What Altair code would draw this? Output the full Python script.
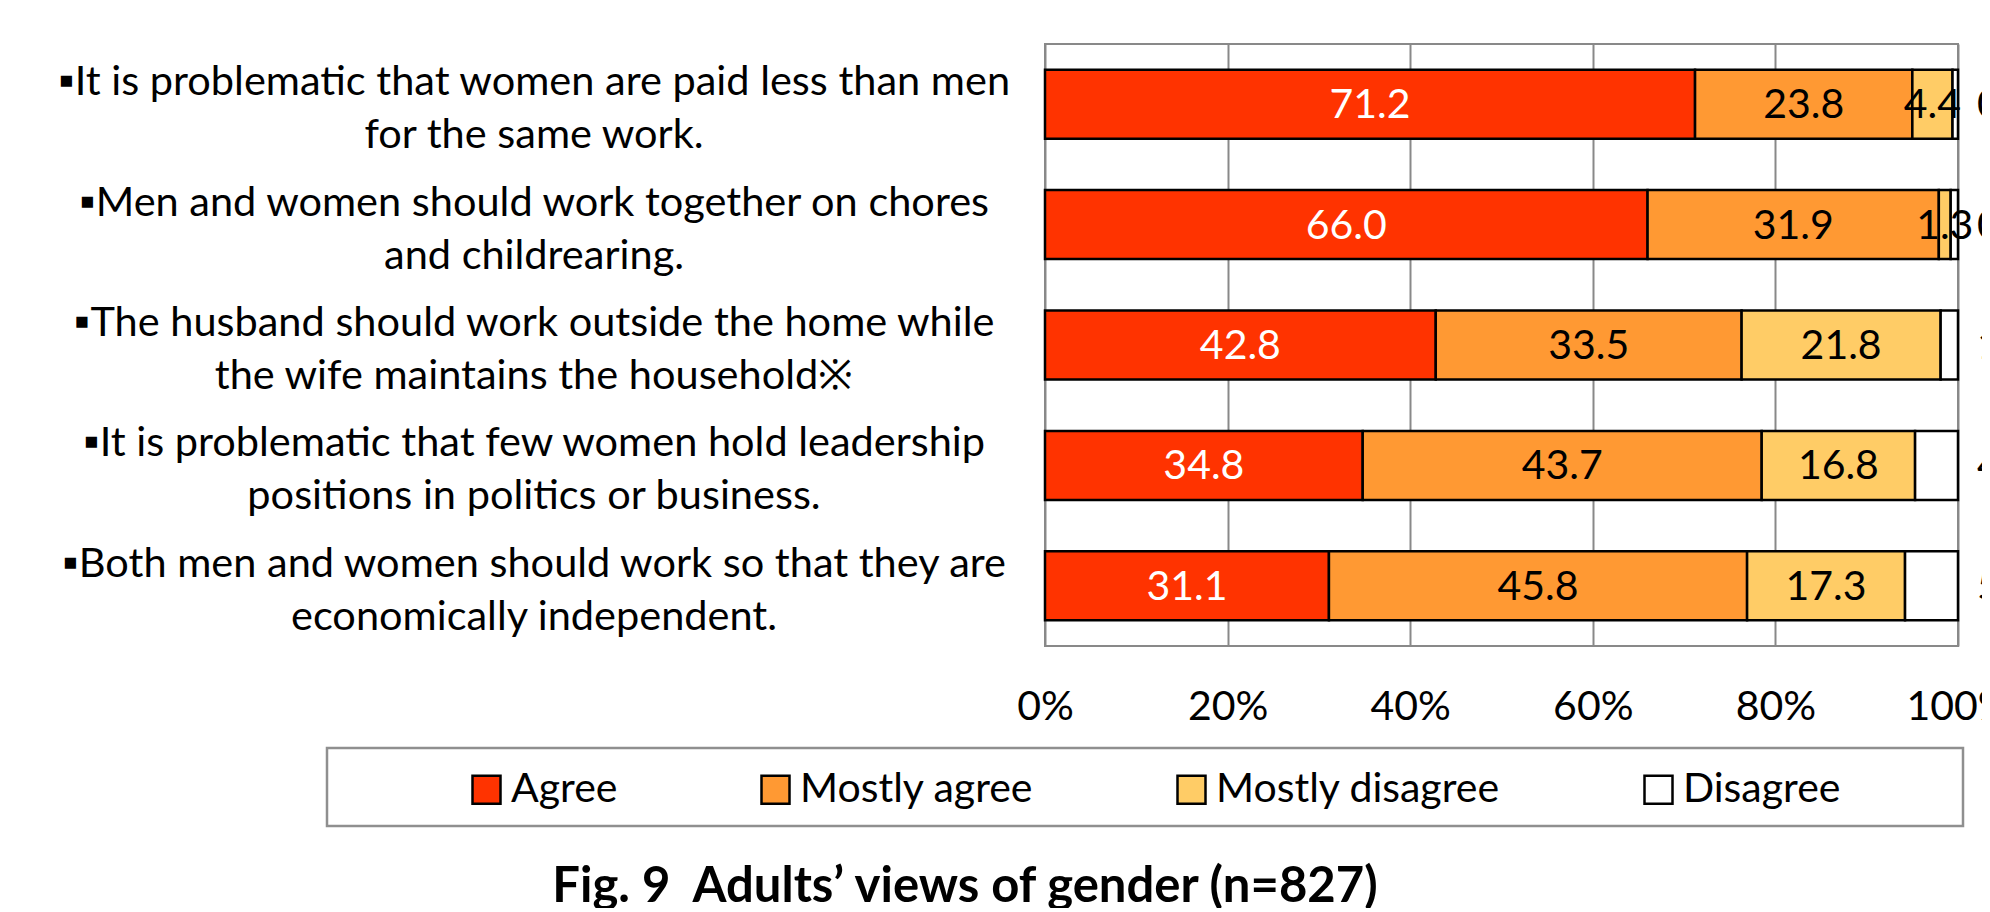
import altair as alt
import pandas as pd

# ---- data ----
items = [
    "▪It is problematic that women are paid less than men\nfor the same work.",
    "▪Men and women should work together on chores\nand childrearing.",
    "▪The husband should work outside the home while\nthe wife maintains the household※",
    "▪It is problematic that few women hold leadership\npositions in politics or business.",
    "▪Both men and women should work so that they are\neconomically independent.",
]
categories = ["Agree", "Mostly agree", "Mostly disagree", "Disagree"]
agree = [71.2, 66.0, 42.8, 34.8, 31.1]
mostly_agree = [23.8, 31.9, 33.5, 43.7, 45.8]
mostly_disagree = [4.4, 1.3, 21.8, 16.8, 17.3]
disagree = [0.6, 0.8, 1.9, 4.7, 5.8]
colors = ["#FF3300", "#FF9933", "#FFCC66", "#FFFFFF"]
x_ticks = [0, 20, 40, 60, 80, 100]
title_text = "Fig. 9\u00a0 Adults’ views of gender (n=827)"

series = [agree, mostly_agree, mostly_disagree, disagree]
rows = []
for i, item in enumerate(items):
    for j, cat in enumerate(categories):
        rows.append({"item": item, "category": cat, "order": j, "value": series[j][i]})
df = pd.DataFrame(rows)

FONT = "Lato"
FS = 41

base = alt.Chart(df).transform_stack(
    stack="value",
    groupby=["item"],
    sort=[alt.SortField("order", "ascending")],
    as_=["x0", "x1"],
).transform_calculate(mid="(datum.x0 + datum.x1) / 2")

y_enc = alt.Y(
    "item:N",
    sort=items,
    axis=None,
    scale=alt.Scale(paddingInner=0.427, paddingOuter=0.2135),
)
x_scale = alt.Scale(domain=[0, 100], nice=False, zero=True)

bars = base.mark_bar(stroke="black", strokeWidth=2.5).encode(
    x=alt.X(
        "x0:Q",
        scale=x_scale,
        axis=alt.Axis(
            values=x_ticks,
            labelExpr="datum.value + '%'",
            grid=True,
            gridColor="#898989",
            gridWidth=2,
            ticks=False,
            tickSize=0,
            domain=False,
            labelPadding=61,
            labelFontSize=FS,
            labelFont=FONT,
            labelFlush=False,
            labelOverlap=False,
            labelBound=False,
            labelBaseline="middle",
            labelColor="black",
            title=None,
        ),
    ),
    x2="x1:Q",
    y=y_enc,
    color=alt.Color(
        "category:N",
        scale=alt.Scale(domain=categories, range=colors),
        legend=alt.Legend(
            title=None,
            orient="none",
            legendX=-579,
            legendY=725,
            direction="horizontal",
            columns=4,
            symbolType="square",
            symbolSize=784,
            symbolStrokeColor="black",
            symbolStrokeWidth=2.5,
            symbolOpacity=1,
            labelFontSize=FS,
            labelFont=FONT,
            labelColor="black",
            labelOffset=4,
            columnPadding=137,
            padding=0,
            labelLimit=0,
        ),
    ),
    order=alt.Order("order:Q"),
)

inner_labels = base.transform_filter("datum.category != 'Disagree'").mark_text(
    fontSize=FS, font=FONT, baseline="middle", align="center", dy=2
).encode(
    x=alt.X("mid:Q", scale=x_scale),
    y=y_enc,
    text=alt.Text("value:Q", format=".1f"),
    color=alt.condition("datum.category == 'Agree'", alt.value("white"), alt.value("black")),
)

outer_labels = base.transform_filter("datum.category == 'Disagree'").mark_text(
    fontSize=FS, font=FONT, baseline="middle", align="left", dx=19, dy=2, color="black"
).encode(
    x=alt.X("x1:Q", scale=x_scale),
    y=y_enc,
    text=alt.Text("value:Q", format=".1f"),
)

cat_labels = alt.Chart(pd.DataFrame({"item": items})).mark_text(
    align="center",
    baseline="middle",
    lineBreak="\n",
    lineHeight=53,
    fontSize=41.5,
    font=FONT,
    dy=-21,
    color="black",
).encode(x=alt.value(-511), y=y_enc, text="item:N")

legend_box = alt.Chart(pd.DataFrame({"k": [0]})).mark_rect(
    fill="white", fillOpacity=0, stroke="#8f8f8f", strokeWidth=2.5
).encode(x=alt.value(-718), x2=alt.value(918), y=alt.value(704), y2=alt.value(782))

title = alt.Chart(pd.DataFrame({"t": [title_text]})).mark_text(
    align="center", baseline="alphabetic", fontSize=49, font=FONT, fontWeight="bold", color="black"
).encode(x=alt.value(-80), y=alt.value(858), text="t:N")

chart = alt.layer(legend_box, bars, inner_labels, outer_labels, cat_labels, title).properties(
    width=913,
    height=602,
    autosize=alt.AutoSizeParams(type="none"),
    padding={"left": 1037, "top": 36, "right": 24, "bottom": 262},
).configure_view(stroke="#898989", strokeWidth=2)

chart.save("out.html", embed_options={"renderer": "svg", "actions": False})
